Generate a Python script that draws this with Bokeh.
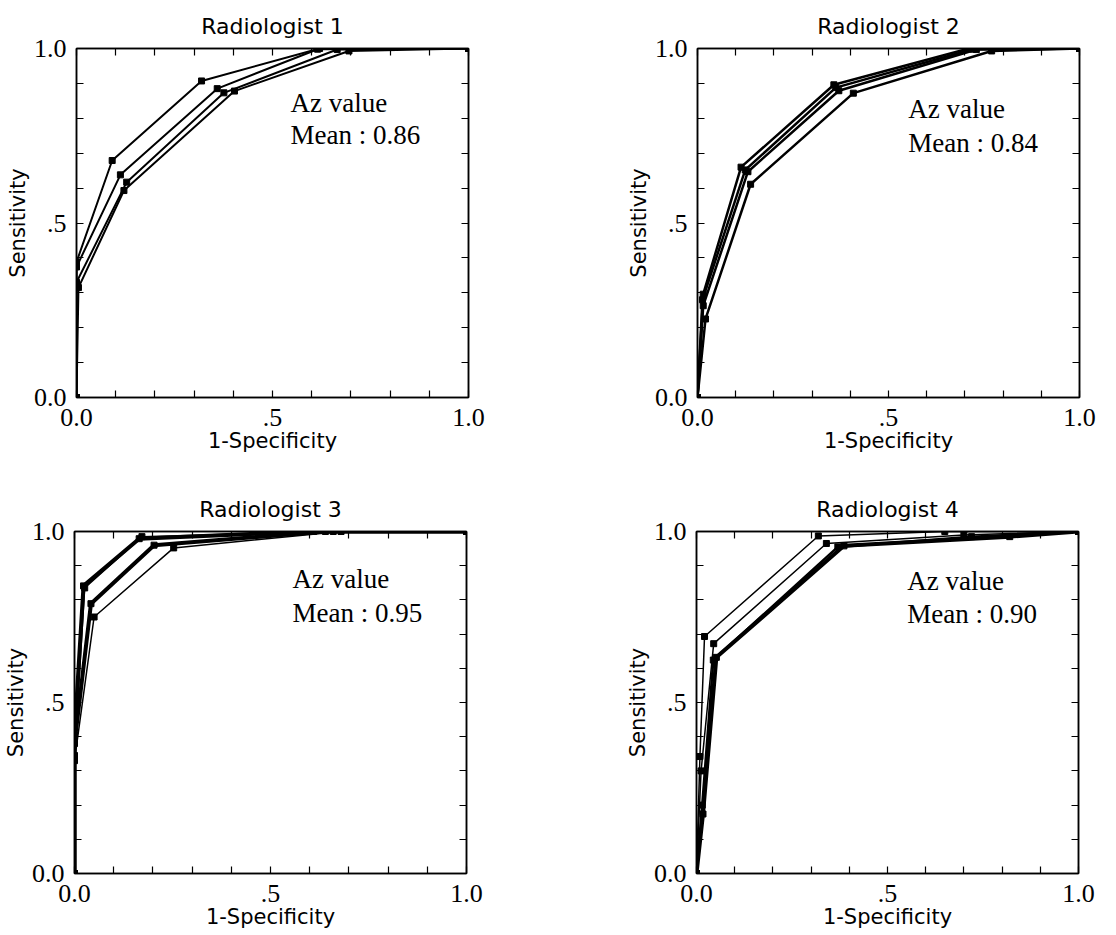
from bokeh.plotting import figure
from bokeh.layouts import column, row
from bokeh.models import Range1d, FixedTicker, LinearAxis
from bokeh.core.properties import value
from bokeh.embed import file_html
from bokeh.resources import INLINE

# ---------------- data ----------------
tick_values = [0, 0.5, 1]
tick_labels = ["0.0", ".5", "1.0"]
minor_values = [0.1, 0.2, 0.3, 0.4, 0.6, 0.7, 0.8, 0.9]
all_tick_values = [0, 0.1, 0.2, 0.3, 0.4, 0.5, 0.6, 0.7, 0.8, 0.9, 1.0]

titles = ["Radiologist 1", "Radiologist 2", "Radiologist 3", "Radiologist 4"]
az_means = [0.86, 0.84, 0.95, 0.90]
x_label = "1-Specificity"
y_label = "Sensitivity"

r1_fpr = [[0, 0.0, 0.091, 0.319, 0.620, 1],
          [0, 0.0, 0.112, 0.359, 0.615, 1],
          [0, 0.0, 0.128, 0.376, 0.665, 1],
          [0, 0.005, 0.121, 0.403, 0.695, 1]]
r1_tpr = [[0, 0.388, 0.679, 0.907, 1.000, 1],
          [0, 0.374, 0.638, 0.885, 0.998, 1],
          [0, 0.330, 0.617, 0.873, 0.997, 1],
          [0, 0.315, 0.593, 0.878, 0.993, 1]]

r2_fpr = [[0, 0.015, 0.114, 0.357, 0.71, 1],
          [0, 0.013, 0.125, 0.362, 0.72, 1],
          [0, 0.015, 0.132, 0.370, 0.73, 1],
          [0, 0.021, 0.139, 0.408, 0.77, 1]]
r2_tpr = [[0, 0.296, 0.660, 0.896, 1.000, 1],
          [0, 0.280, 0.652, 0.888, 0.998, 1],
          [0, 0.263, 0.647, 0.879, 0.997, 1],
          [0, 0.225, 0.611, 0.872, 0.993, 1]]

r3_fpr = [[0, 0.0, 0.023, 0.165, 0.61, 1],
          [0, 0.0, 0.042, 0.203, 0.64, 1],
          [0, 0.0, 0.050, 0.253, 0.68, 1],
          [0, 0.0, 0.026, 0.172, 0.66, 1]]
r3_tpr = [[0, 0.405, 0.841, 0.979, 1.0, 1],
          [0, 0.380, 0.789, 0.960, 1.0, 1],
          [0, 0.330, 0.750, 0.952, 1.0, 1],
          [0, 0.345, 0.835, 0.985, 1.0, 1]]

r4_fpr = [[0, 0.009, 0.021, 0.319, 0.65, 1],
          [0, 0.012, 0.045, 0.340, 0.70, 1],
          [0, 0.017, 0.052, 0.386, 0.82, 1],
          [0, 0.015, 0.044, 0.370, 0.72, 1]]
r4_tpr = [[0, 0.342, 0.693, 0.987, 1.000, 1],
          [0, 0.300, 0.672, 0.965, 0.990, 1],
          [0, 0.174, 0.632, 0.958, 0.985, 1],
          [0, 0.200, 0.624, 0.955, 0.985, 1]]

# ---------------- styles / layout ----------------
line_widths = [[2, 2, 2, 2], [2.5, 2.5, 2.5, 2.5], [4, 4, 1.5, 1.5], [1.5, 1.5, 4, 2.5]]
geom = [  # width, height, left, right, top, bottom
    (566, 468, 76, 98, 48, 69),
    (542, 468, 131, 29, 47, 71),
    (566, 463, 73, 100, 63, 54),
    (542, 463, 130, 30, 60, 55),
]
text_pos = [(0.546, 0.845, 0.751), (0.552, 0.828, 0.728),
            (0.556, 0.861, 0.762), (0.552, 0.855, 0.759)]

SERIF = "Liberation Serif"
SANS = "DejaVu Sans"


def style_axis(ax, labelled):
    ax.major_tick_in = 7
    ax.major_tick_out = 0
    ax.minor_tick_in = 7
    ax.minor_tick_out = 0
    ax.axis_line_color = "black"
    ax.axis_line_width = 1.5
    ax.major_tick_line_color = "black"
    ax.major_tick_line_width = 1.2
    ax.minor_tick_line_color = "black"
    ax.minor_tick_line_width = 1.2
    if labelled:
        ax.ticker = FixedTicker(ticks=tick_values, minor_ticks=minor_values)
        ax.major_label_overrides = dict(zip(tick_values, tick_labels))
        ax.major_label_text_font = SERIF
        ax.major_label_text_font_size = "26px"
        ax.major_label_text_color = "black"
        ax.axis_label_text_font = SANS
        ax.axis_label_text_font_size = "21px"
        ax.axis_label_text_font_style = "normal"
        ax.axis_label_text_color = "black"
    else:
        ax.ticker = FixedTicker(ticks=[], minor_ticks=all_tick_values)
        ax.major_label_standoff = 0


fprs = [r1_fpr, r2_fpr, r3_fpr, r4_fpr]
tprs = [r1_tpr, r2_tpr, r3_tpr, r4_tpr]
figs = []
for i in range(4):
    W, H, bl, br, bt, bb = geom[i]
    p = figure(width=W, height=H, x_range=Range1d(0, 1), y_range=Range1d(0, 1),
               output_backend="svg", toolbar_location=None,
               min_border_left=bl, min_border_right=br,
               min_border_top=bt, min_border_bottom=bb,
               title=titles[i])
    p.grid.visible = False
    p.outline_line_color = "black"
    p.outline_line_width = 1.5
    p.background_fill_color = "white"
    p.border_fill_color = "white"
    p.title.text_font = SANS
    p.title.text_font_size = "22px"
    p.title.text_font_style = "normal"
    p.title.text_color = "black"
    p.title.align = "center"
    p.title.standoff = 20

    style_axis(p.xaxis[0], True)
    style_axis(p.yaxis[0], True)
    p.xaxis[0].axis_label = x_label
    p.yaxis[0].axis_label = y_label
    p.xaxis[0].major_label_standoff = 11
    p.xaxis[0].axis_label_standoff = 0
    p.yaxis[0].major_label_standoff = 10
    p.yaxis[0].axis_label_standoff = 1

    top_ax = LinearAxis()
    style_axis(top_ax, False)
    p.add_layout(top_ax, "above")
    right_ax = LinearAxis()
    style_axis(right_ax, False)
    p.add_layout(right_ax, "right")

    for fx, ty, lw in zip(fprs[i], tprs[i], line_widths[i]):
        p.line(fx, ty, line_width=lw, line_color="black")
        p.scatter(fx, ty, marker="square", size=6, color="black")

    tx, ty1, ty2 = text_pos[i]
    p.text(x=[tx], y=[ty1], text=["Az value"], text_font=value(SERIF),
           text_font_size="27px", text_color="black", text_baseline="alphabetic")
    p.text(x=[tx], y=[ty2], text=[f"Mean : {az_means[i]:.2f}"], text_font=value(SERIF),
           text_font_size="27px", text_color="black", text_baseline="alphabetic")
    figs.append(p)

layout = column(row(figs[0], figs[1]), row(figs[2], figs[3]))
open("out.html", "w").write(file_html(layout, INLINE))
